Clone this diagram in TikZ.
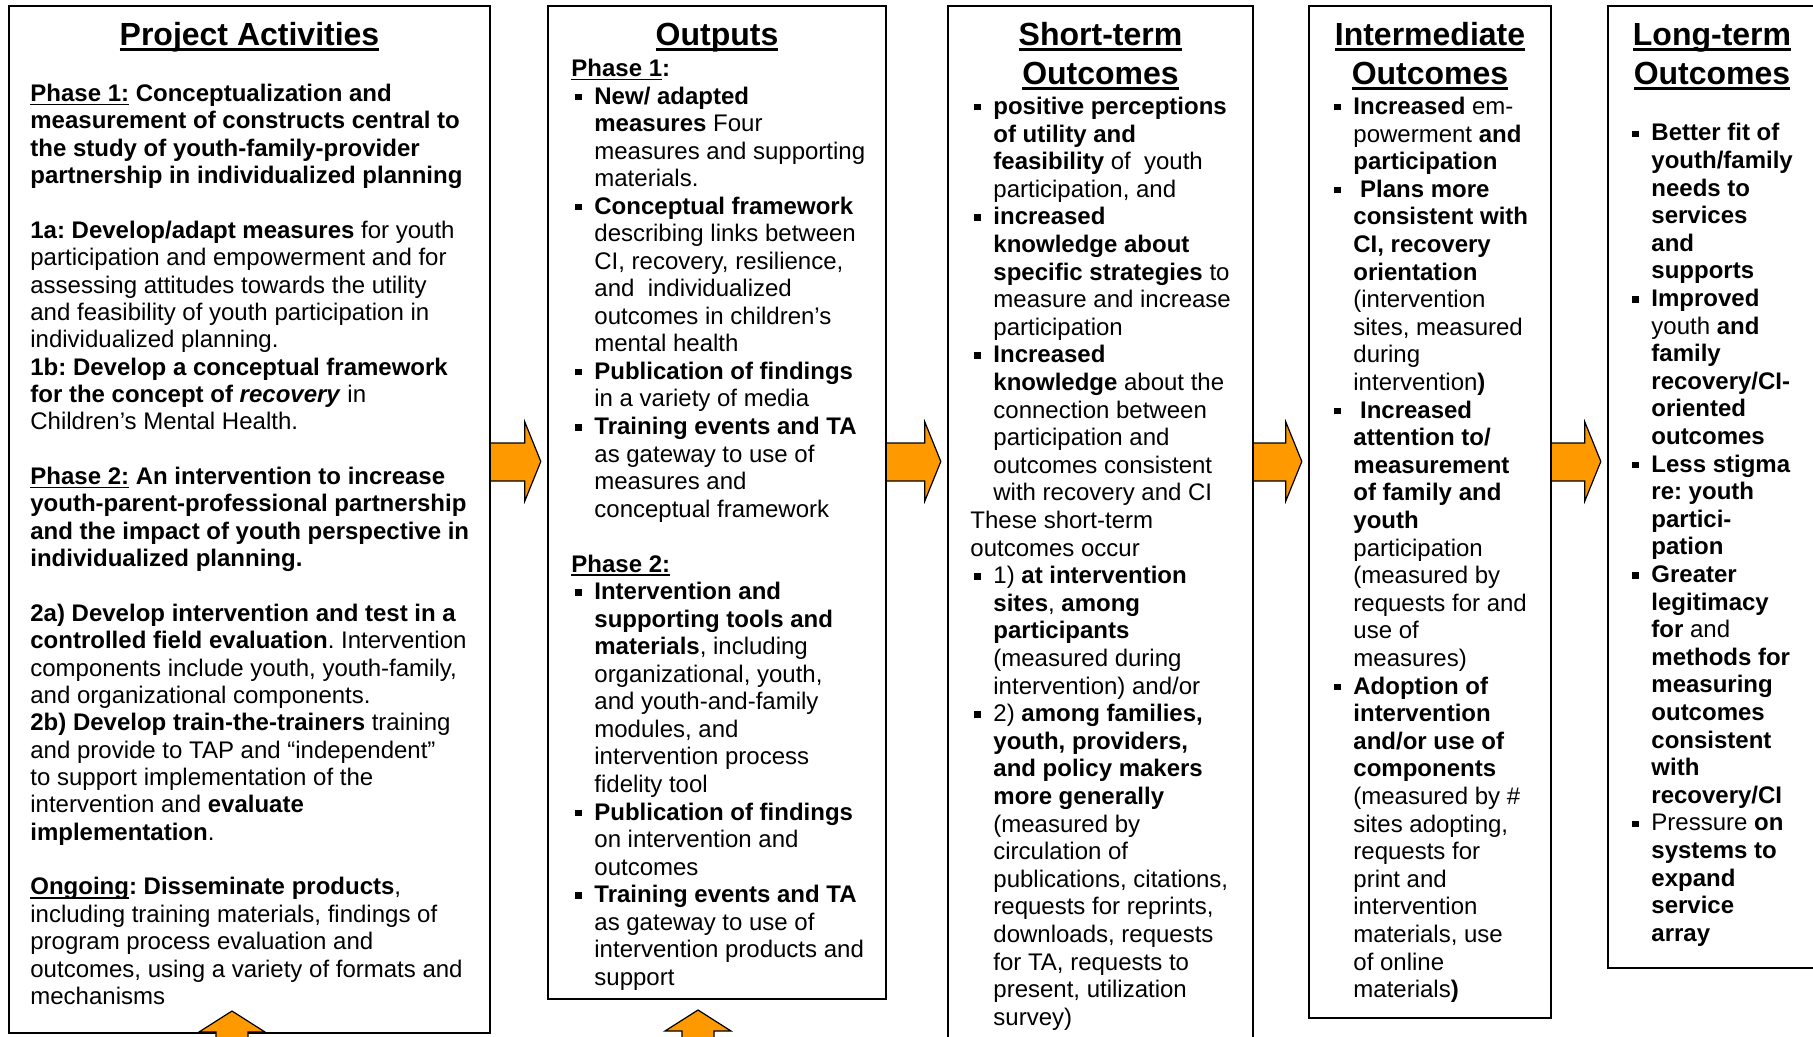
\documentclass[tikz,border=0pt]{standalone}
\usepackage{fontspec}
\setmainfont{Liberation Sans}
\usetikzlibrary{calc,fit}
\definecolor{arroworange}{RGB}{255,153,0}

% list and text helpers
\newlength\bind \setlength\bind{11.5pt}
\newcommand\bsq{\rule[2pt]{3.2pt}{3.2pt}}
\newcommand\bitem{\par\hangindent=\bind\hangafter=1\noindent\makebox[\bind][l]{\hspace{2pt}\bsq}\ignorespaces}
\newcommand\blankline{\par\vspace{\baselineskip}}
\newcommand\undl[1]{\setbox0\hbox{#1}\rlap{\rule[-0.165em]{\wd0}{0.075em}}\box0\relax}
\newcommand\bodyfont[1][13.78pt]{\fontsize{12pt}{#1}\selectfont\frenchspacing}

\tikzset{
  panel/.style={draw, line width=1.2pt, inner sep=0pt},
  ttl/.style={anchor=base, inner sep=0pt, font=\fontsize{16pt}{18.5pt}\selectfont\bfseries},
  body/.style={anchor=base west, inner sep=0pt},
  blockarrow/.style={draw, fill=arroworange, line width=0.6pt, line join=miter},
}

\begin{document}
\begin{tikzpicture}[x=0.5pt,y=-0.5pt]
\useasboundingbox (0,0) rectangle (1813,1037);
\clip (0,0) rectangle (1813,1037);

% reference rows
\coordinate (tyA) at (0,45.5);
\coordinate (tyB) at (0,84.5);
\coordinate (shT) at (0,443);
\coordinate (shB) at (0,481);
\coordinate (hdT) at (0,422);
\coordinate (hdB) at (0,501);
\coordinate (tpY) at (0,461.5);

% panels
\coordinate (p1a) at (9,6);    \coordinate (p1b) at (490,1033);
\coordinate (p2a) at (548,6);  \coordinate (p2b) at (886,999);
\coordinate (p3a) at (948,6);  \coordinate (p3b) at (1253,1060);
\coordinate (p4a) at (1309,6); \coordinate (p4b) at (1551,1018);
\coordinate (p5a) at (1608,6); \coordinate (p5b) at (1818,968);
\node[panel, fit=(p1a)(p1b)] (b1) {};
\node[panel, fit=(p2a)(p2b)] (b2) {};
\node[panel, fit=(p3a)(p3b)] (b3) {};
\node[panel, fit=(p4a)(p4b)] (b4) {};
\node[panel, fit=(p5a)(p5b)] (b5) {};

% headings
\node[ttl] (t1)  at (b1.north |- tyA) {\undl{Project Activities}};
\node[ttl] (t2)  at (b2.north |- tyA) {\undl{Outputs}};
\node[ttl] (t3a) at (b3.north |- tyA) {\undl{Short-term}};
\node[ttl] (t3b) at (b3.north |- tyB) {\undl{Outcomes}};
\node[ttl] (t4a) at (b4.north |- tyA) {\undl{Intermediate}};
\node[ttl] (t4b) at (b4.north |- tyB) {\undl{Outcomes}};
\node[ttl] (t5a) at (1712,45.5) {\undl{Long-term}};
\node[ttl] (t5b) at (1712,84.5) {\undl{Outcomes}};

% project activities
\node[body] (x1) at (30,101.5) {\parbox[t]{228pt}{\bodyfont[13.68pt]
\textbf{\undl{Phase 1:} Conceptualization and}\\
\textbf{measurement of constructs central to}\\
\textbf{the study of youth-family-provider}\\
\textbf{partnership in individualized planning}
\blankline
\textbf{1a: Develop/adapt measures} for youth\\
participation and empowerment and for\\
assessing attitudes towards the utility\\
and feasibility of youth participation in\\
individualized planning.\\
\textbf{1b: Develop a conceptual framework}\\
\textbf{for the concept of \textit{recovery}} in\\
Children’s Mental Health.
\blankline
\textbf{\undl{Phase 2:} An intervention to increase}\\
\textbf{youth-parent-professional partnership}\\
\textbf{and the impact of youth perspective in}\\
\textbf{individualized planning.}
\blankline
\textbf{2a) Develop intervention and test in a}\\
\textbf{controlled field evaluation}. Intervention\\
components include youth, youth-family,\\
and organizational components.\\
\textbf{2b) Develop train-the-trainers} training\\
and provide to TAP and “independent”\\
to support implementation of the\\
intervention and \textbf{evaluate}\\
\textbf{implementation}.
\blankline
\textbf{\undl{Ongoing}: Disseminate products},\\
including training materials, findings of\\
program process evaluation and\\
outcomes, using a variety of formats and\\
mechanisms}};

% outputs
\node[body] (x2) at (571,76.5) {\parbox[t]{170pt}{\bodyfont[13.77pt]
\textbf{\undl{Phase 1}:}
\bitem \textbf{New/ adapted}\\ \textbf{measures} Four\\ measures and supporting\\ materials.
\bitem \textbf{Conceptual framework}\\ describing links between\\ CI, recovery, resilience,\\ and~ individualized\\ outcomes in children’s\\ mental health
\bitem \textbf{Publication of findings}\\ in a variety of media
\bitem \textbf{Training events and TA}\\ as gateway to use of\\ measures and\\ conceptual framework
\blankline
\noindent\textbf{\undl{Phase 2:}}
\bitem \textbf{Intervention and}\\ \textbf{supporting tools and}\\ \textbf{materials}, including\\ organizational, youth,\\ and youth-and-family\\ modules, and\\ intervention process\\ fidelity tool
\bitem \textbf{Publication of findings}\\ on intervention and\\ outcomes
\bitem \textbf{Training events and TA}\\ as gateway to use of\\ intervention products and\\ support}};

% short-term outcomes
\node[body] (x3) at (970,114.5) {\parbox[t]{170pt}{\bodyfont[13.8pt]
\bitem \textbf{positive perceptions}\\ \textbf{of utility and}\\ \textbf{feasibility} of~ youth\\ participation, and
\bitem \textbf{increased}\\ \textbf{knowledge about}\\ \textbf{specific strategies} to\\ measure and increase\\ participation
\bitem \textbf{Increased}\\ \textbf{knowledge} about the\\ connection between\\ participation and\\ outcomes consistent\\ with recovery and CI
\par\noindent These short-term\\ outcomes occur
\bitem 1) \textbf{at intervention}\\ \textbf{sites}, \textbf{among}\\ \textbf{participants}\\ (measured during\\ intervention) and/or
\bitem 2) \textbf{among families,}\\ \textbf{youth, providers,}\\ \textbf{and policy makers}\\ \textbf{more generally}\\ (measured by\\ circulation of\\ publications, citations,\\ requests for reprints,\\ downloads, requests\\ for TA, requests to\\ present, utilization\\ survey)}};

% intermediate outcomes
\node[body] (x4) at (1330,114.5) {\parbox[t]{170pt}{\bodyfont[13.8pt]
\bitem \textbf{Increased} em-\\ powerment \textbf{and}\\ \textbf{participation}
\bitem\ \textbf{Plans more}\\ \textbf{consistent with}\\ \textbf{CI, recovery}\\ \textbf{orientation}\\ (intervention\\ sites, measured\\ during\\ intervention\textbf{)}
\bitem\ \textbf{Increased}\\ \textbf{attention to/}\\ \textbf{measurement}\\ \textbf{of family and}\\ \textbf{youth}\\ participation\\ (measured by\\ requests for and\\ use of\\ measures)
\bitem \textbf{Adoption of}\\ \textbf{intervention}\\ \textbf{and/or use of}\\ \textbf{components}\\ (measured by \#\\ sites adopting,\\ requests for\\ print and\\ intervention\\ materials, use\\ of online\\ materials\textbf{)}}};

% long-term outcomes
\node[body] (x5) at (1628,141) {\parbox[t]{170pt}{\bodyfont[13.8pt]
\bitem \textbf{Better fit of}\\ \textbf{youth/family}\\ \textbf{needs to}\\ \textbf{services}\\ \textbf{and}\\ \textbf{supports}
\bitem \textbf{Improved}\\ youth \textbf{and}\\ \textbf{family}\\ \textbf{recovery/CI-}\\ \textbf{oriented}\\ \textbf{outcomes}
\bitem \textbf{Less stigma}\\ \textbf{re: youth}\\ \textbf{partici-}\\ \textbf{pation}
\bitem \textbf{Greater}\\ \textbf{legitimacy}\\ \textbf{for} and\\ \textbf{methods for}\\ \textbf{measuring}\\ \textbf{outcomes}\\ \textbf{consistent}\\ \textbf{with}\\ \textbf{recovery/CI}
\bitem Pressure \textbf{on}\\ \textbf{systems to}\\ \textbf{expand}\\ \textbf{service}\\ \textbf{array}}};

% block arrows between panels
\foreach \a/\b in {b1/b2, b2/b3, b3/b4, b4/b5}{
  \draw[blockarrow] (\a.east |- shT) -- ($(\b.west |- shT)+(-22,0)$)
    -- ($(\b.west |- hdT)+(-22,0)$) -- ($(\b.west |- tpY)+(-6,0)$)
    -- ($(\b.west |- hdB)+(-22,0)$) -- ($(\b.west |- shB)+(-22,0)$)
    -- (\a.east |- shB);
}

% upward arrows entering from below
\coordinate (u1) at (232,1011);
\coordinate (u2) at (698,1010);
\foreach \u in {u1,u2}{
  \draw[blockarrow] (\u) -- ++(33,21) -- ++(-17,0) -- ++(0,20) -- ++(-32,0)
    -- ++(0,-20) -- ++(-17,0) -- cycle;
}
\end{tikzpicture}
\end{document}
